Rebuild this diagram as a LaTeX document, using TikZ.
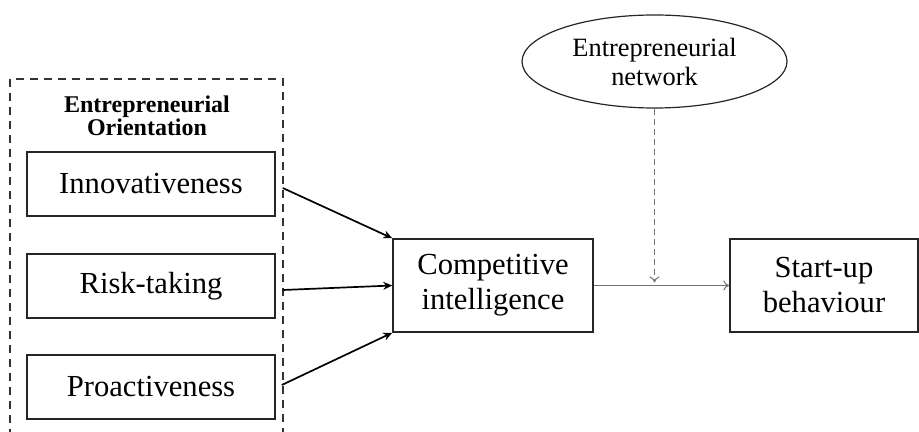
\documentclass[tikz,border=0pt]{standalone}
\usepackage{fontspec}
\setmainfont{Liberation Serif}
\usetikzlibrary{positioning,arrows.meta,shapes.geometric}

\begin{document}
\begin{tikzpicture}[
  x=0.5pt, y=-0.5pt,
  font=\fontsize{15.3}{17.5}\selectfont,
  box/.style={draw=black!85, line width=0.75pt, inner sep=0pt, align=center},
  dim/.style={box, minimum width=124pt, minimum height=32pt},
  main/.style={box, minimum height=46.5pt},
  title/.style={font=\fontsize{12}{11.5}\selectfont\bfseries, align=center, inner sep=0pt},
  flow/.style={-{Stealth[length=4.5pt, width=4pt]}, line width=0.85pt, black},
  thin flow/.style={-{To[length=3pt, width=5pt]}, line width=0.5pt, black!55},
]
\useasboundingbox (0,0) rectangle (919,432);

% ---- entrepreneurial orientation (left) ----
\draw[dashed, line width=0.75pt, black!80, dash pattern=on 4pt off 3pt]
  (10,79) rectangle (283,450);
\node[title] (eotitle) at (147,116) {Entrepreneurial\\Orientation};
\node[dim] (inno) at (151,184) {Innovativeness};
\node[dim] (risk) at (151,286) {Risk-taking};
\node[dim] (proact) at (151,387) {Proactiveness};

% ---- mediator and outcome ----
\node[main, minimum width=100pt] (ci) at (493,285.5) {Competitive\\intelligence};
\node[main, minimum width=94pt] (su) at (824,285.5) {Start-up\\behaviour};

% ---- moderator ----
\node[ellipse, draw=black!85, line width=0.6pt, inner sep=0pt,
      minimum width=132.5pt, minimum height=46.5pt, align=center,
      font=\fontsize{13.2}{14.5}\selectfont] (net) at (654.5,61.5)
  {Entrepreneurial\\network};

% ---- connectors ----
\draw[flow] ([xshift=3.5pt, yshift=-2pt]inno.east) -- (ci.north west);
\draw[flow] ([xshift=3.5pt, yshift=-2pt]risk.east) -- (ci.west);
\draw[flow] ([xshift=3pt, yshift=1pt]proact.east) -- (ci.south west);
\draw[thin flow] (ci) -- (su);
\coordinate (meet) at (net.south |- ci.east);
\draw[thin flow, dashed, dash pattern=on 3pt off 2pt] (net.south) -- ([yshift=1.5pt]meet);

\end{tikzpicture}
\end{document}
